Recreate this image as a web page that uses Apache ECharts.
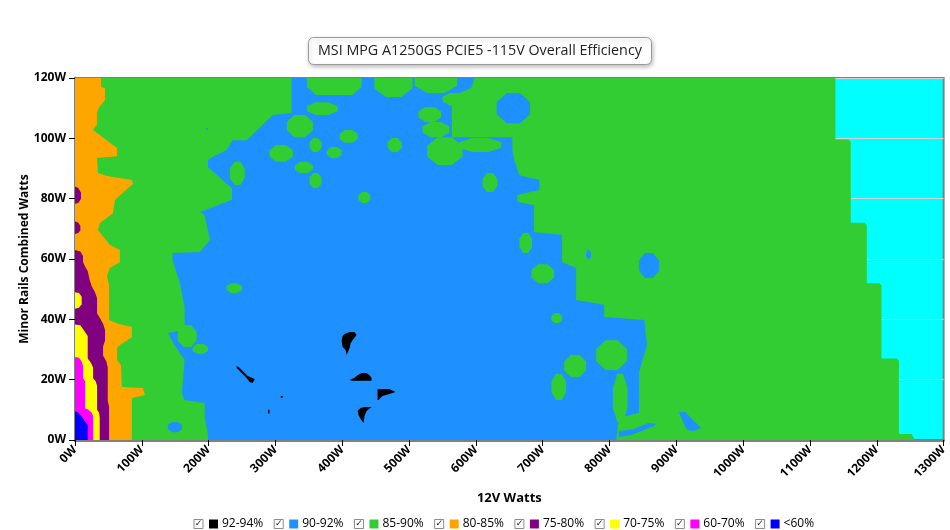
<!DOCTYPE html>
<html><head><meta charset="utf-8">
<script src="https://cdn.jsdelivr.net/npm/echarts@6/dist/echarts.min.js"></script>
<style>html,body{margin:0;padding:0;background:#fff}#c{width:950px;height:530px}</style>
</head><body><div id="c"></div>
<script>
// ---- categories / classes ----
const classNames = ['92-94%','90-92%','85-90%','80-85%','75-80%','70-75%','60-70%','<60%'];
const classColors = ['#000000','#1e90ff','#32cd32','#ffa500','#800080','#ffff00','#ff00ff','#0000ff'];
const xTicks = {min:0, max:1300, step:100};
const yTicks = {min:0, max:120, step:20};

// ---- regions: polygons as [12V W, minor W] ----
const green8590Area = [
  [[0,0],[0,120],[1138,120],[1138,99.6],[1158,99.6],[1161,98.8],[1161,72],[1182,72],[1185,71.2],[1185,52],[1204,52],[1207,51.2],[1207,27],[1230,27],[1233,26.2],[1233,2],[1252,2],[1257,0]]
];
const green8590Top = [
  [[347,120],[429,120],[429,117],[415,114.4],[361,114.4],[347,117]],
  [[508,120],[572,120],[572,117.4],[553,115],[527,115],[508,117.4]]
];
const blue9092Area = [
  [[324,120],[598,120],[593,116.7],[568,114.4],[564,112.7],[564,100.4],[654.5,100.4],[654.5,96.1],[657.5,92.8],[665,87.8],[695,86.2],[695,82.9],[662,81.2],[662,78.9],[687,77.9],[687,68.9],[729,68],[729,59],[750,57],[750,46.4],[792,44.8],[792,40.8],[852,39.8],[856,31.5],[844,22.5],[844,9],[814,7.3],[810,0],
   [199,0],[199,1.7],[194,7.6],[194,12.3],[164,13.3],[160,15.6],[164,26.5],[149,31.5],[139,35.5],[164,36.5],[164,44.1],[157,52],[146,59.7],[146,62],[187,62.3],[202,66.3],[194,74.6],[187,75.6],[235,79.6],[235,83.5],[229,84.5],[199,90.5],[199,92.8],[206,93.8],[227,96.1],[236,99.4],[257,99.4],[296,107.7],[324,108.4]],
  [[904,9.3],[913,9.3],[937,4],[926,3],[916,3.3],[910,6]],
  [[814,1],[830,1.5],[848,3],[866,4.6],[870,5.4],[858,5.6],[836,3.6],[814,3]]
];
// islands as [left W, right W, bottom W, top W]
const green8590Islands = [
  [232,254,84.5,92.2],[291,326,92.2,97.8],[329,356,88.5,92.2],[317,356,100.4,107.7],[351,369,83.5,88.5],
  [351,369,95.5,100.1],[448,505,113.7,123],[550,586,111,115],
  [347,393,107.7,112],[396,423,98.5,102.8],[377,399,93.5,97.1],[468,489,95.5,100.1],[424,442,78.6,82.2],
  [514,548,105.4,110.4],[520,560,100.4,105.4],[527,580,91.2,100.4],[575,638,95.5,100.1],[610,632,82.2,88.5],
  [665,684,62,68.6],[154,182,30.8,38.1],[176,199,28.5,31.8],[227,250,48.7,52],[683,717,52,58.3],
  [713,729,38.8,42.1],[732,765,20.9,28.2],[713,735,13.3,21.9],[780,826,23.2,33.1],[805,827,6,22]
];
const blue9092Islands = [
  [844,874,53.7,62],[196,199,102.8,103.4],[139,160,2.6,6],[765,772,60,63],[631,681,105,115]
];
const black9294Area = [
  [[403.5,35.1],[411,35.8],[418.4,35.8],[421.4,34.8],[415.4,33.1],[412.4,32.1],[411,30.5],[406.5,28.2],[405,29.8],[400.5,30.8],[399,33.1],[400.5,34.5]],
  [[411,19.9],[418.4,20.6],[422.9,21.5],[428.9,22.2],[436.3,22.2],[440.8,21.5],[443.8,20.6],[443.8,19.6],[414,19.6]],
  [[452.8,16.9],[470.7,16.9],[479.7,15.9],[469.2,15.2],[460.2,14.6],[454.2,13.3],[452.8,13.3]],
  [[433.4,10.9],[443.8,10.9],[436.3,9.6],[433.4,8.0],[431.9,5.6],[427.4,7.0],[424.4,8.3],[422.9,9.6],[427.4,10.6]],
  [[242,24.5],[245,24.2],[258.5,21.2],[269,20.2],[266,18.9],[261.5,19.2],[254,21.2],[242,23.9]],
  [[308,14.6],[311,14.6],[311,14],[308,14]],
  [[289,10],[291,10],[291,8.8],[289,8.8]]
];
const orange8085Area = [
  [[0,0],[0,120],[38.9,120],[38.9,117],[44.8,116.7],[44.8,112.7],[37.4,110.7],[32.9,108.7],[32.9,104.7],[26.9,102.8],[62.8,96.8],[62.8,94.1],[32.9,93.5],[34.4,88.5],[47.8,87.5],[85.2,86.2],[86.7,84.9],[59.8,79.6],[56.8,75.2],[37.4,71.9],[34.4,69.6],[52.3,64.6],[67.2,63],[67.2,59],[52.3,57],[47.8,54.4],[50.8,51.7],[50.8,39.8],[64.3,38.5],[85.2,37.5],[85.2,34.1],[67.2,31.5],[62.8,30.5],[62.8,26.5],[68.7,24.9],[70.2,17.6],[101.6,17.2],[104.6,14.9],[85.2,13.9],[85.2,0]]
];
const purple7580Area = [
  [[0,63],[8,62.5],[12,61],[12,59],[15,57.5],[19,56],[22,53],[25,51],[30,49],[33,47],[33,42],[37,40.5],[42,38.5],[45,36.5],[45,33],[42,31],[42,28],[47,26],[49,24],[49,13],[51,11],[51,0],[0,0]],
  [[0,84],[5,83.5],[9,82],[9,80],[5,78.6],[0,78.3]],
  [[0,72.5],[5,72],[8,71],[8,69.5],[5,68.6],[0,68.3]]
];
const yellow7075Area = [
  [[0,49],[6,48.7],[10,47.5],[10,45],[6,43.8],[0,43.5]],
  [[0,38.3],[8,38],[13,36.5],[19,34.5],[19,27],[24,25.5],[27,24],[27,20.5],[31,19.5],[33,18],[33,10],[36,9],[37,7.5],[37,0],[0,0]]
];
const magenta6070Area = [
  [[0,27.5],[6,27.3],[10,26],[12,24.5],[12,20.5],[15,19.5],[15,10.5],[20,10],[25,9],[27,8],[27,0],[0,0]]
];
const blue60Area = [
  [[0,9.5],[4,9.3],[9,8],[14,6.5],[19,5],[19,0],[0,0]]
];

// ---- build series ----
function islandPoints(b){
  const w1=b[0],w2=b[1],m1=b[2],m2=b[3];
  const cw=(w2-w1)*0.3, cm=(m2-m1)*0.3;
  return [[w1+cw,m2],[w2-cw,m2],[w2,m2-cm],[w2,m1+cm],[w2-cw,m1],[w1+cw,m1],[w1,m1+cm],[w1,m2-cm]];
}
function makeSeries(ci, layers){
  const items = [];
  layers.forEach(function(L){
    L.shapes.forEach(function(s){ items.push({pts: L.island ? islandPoints(s) : s, z2: L.z2}); });
  });
  const color = classColors[ci];
  return {
    type:'custom', name: classNames[ci], coordinateSystem:'cartesian2d', clip:true, silent:true,
    itemStyle:{color: color},
    data: items.map(function(it,i){ return [i,0]; }),
    renderItem: function(params, api){
      const it = items[params.dataIndex];
      return {type:'polygon', z2: it.z2, shape:{points: it.pts.map(function(p){ return api.coord(p); })},
              style:{fill: color, stroke: null}};
    }
  };
}
const series = [
  makeSeries(0, [{shapes: black9294Area, z2: 40}]),
  makeSeries(1, [{shapes: blue9092Area, z2: 10}, {shapes: blue9092Islands, island:true, z2: 30}]),
  makeSeries(2, [{shapes: green8590Area, z2: 0}, {shapes: green8590Islands, island:true, z2: 20}, {shapes: green8590Top, z2: 20}]),
  makeSeries(3, [{shapes: orange8085Area, z2: 50}]),
  makeSeries(4, [{shapes: purple7580Area, z2: 60}]),
  makeSeries(5, [{shapes: yellow7075Area, z2: 70}]),
  makeSeries(6, [{shapes: magenta6070Area, z2: 80}]),
  makeSeries(7, [{shapes: blue60Area, z2: 90}])
];

const FONT = 'Open Sans';
const rich = {
  cb:{width:9,height:9,lineHeight:10,borderColor:'#8c8c8c',borderWidth:1,align:'center',fontSize:9,color:'#222',fontFamily:'DejaVu Sans'},
  g1:{width:6}, g2:{width:4},
  t:{fontSize:12,fontFamily:FONT,color:'#000'}
};
classColors.forEach(function(c,i){ rich['s'+i] = {width:9,height:9,backgroundColor:c}; });

const chart = echarts.init(document.getElementById('c'), null, {renderer:'canvas'});
chart.setOption({
  animation:false,
  backgroundColor:'#ffffff',
  title:{
    text:'MSI MPG A1250GS PCIE5 -115V Overall Efficiency',
    left:308, top:37, padding:[7,10,7,10],
    borderColor:'#9a9a9a', borderWidth:1, borderRadius:5,
    backgroundColor:'#ffffff',
    shadowBlur:4, shadowColor:'rgba(0,0,0,0.25)', shadowOffsetX:1, shadowOffsetY:2,
    textStyle:{fontFamily:FONT, fontSize:14.3, fontWeight:'normal', color:'#222'}
  },
  legend:{
    left:184, top:513, icon:'none', itemWidth:0, itemHeight:12, itemGap:6,
    selectedMode:false,
    data: classNames,
    formatter: function(name){ const i = classNames.indexOf(name); return '{cb|✓}{g1|}{s'+i+'|}{g2|}{t|'+name+'}'; },
    textStyle:{rich: rich, fontFamily:FONT, fontSize:12}
  },
  grid:{left:75, right:5, top:78, bottom:90, show:true, backgroundColor:'#00ffff', borderColor:'#808080', borderWidth:2},
  xAxis:{
    type:'value', min:xTicks.min, max:xTicks.max, interval:xTicks.step,
    name:'12V Watts', nameLocation:'middle', nameGap:52, nameMoveOverlap:false,
    nameTextStyle:{fontFamily:FONT, fontWeight:'bold', fontSize:13, color:'#000'},
    axisLine:{show:true, lineStyle:{color:'#808080', width:3}},
    axisTick:{show:true, length:6, lineStyle:{color:'#000'}},
    axisLabel:{formatter:function(v){ return v + 'W'; }, rotate:45, fontFamily:FONT, fontWeight:'bold', fontSize:12, color:'#000', margin:8},
    splitLine:{show:false}
  },
  yAxis:{
    type:'value', min:yTicks.min, max:yTicks.max, interval:yTicks.step,
    name:'Minor Rails Combined Watts', nameLocation:'middle', nameGap:44, nameMoveOverlap:false,
    nameTextStyle:{fontFamily:FONT, fontWeight:'bold', fontSize:12, color:'#000'},
    axisLine:{show:true, lineStyle:{color:'#808080', width:3}},
    axisTick:{show:true, length:6, lineStyle:{color:'#000'}},
    axisLabel:{formatter:function(v){ return v + 'W'; }, fontFamily:FONT, fontWeight:'bold', fontSize:12, color:'#000', margin:9},
    splitLine:{show:true, lineStyle:{color:'#d3d3d3', width:1}}
  },
  series: series
});
</script></body></html>
